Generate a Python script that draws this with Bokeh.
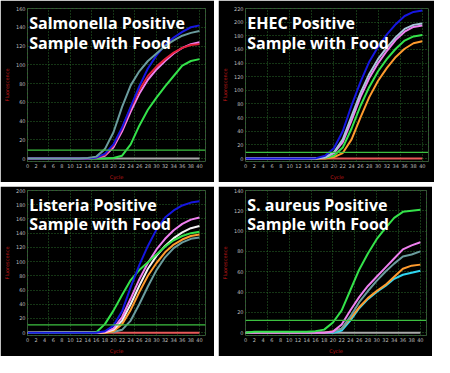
from bokeh.plotting import figure
from bokeh.models import Label, FixedTicker, Span
from bokeh.layouts import row, column
from bokeh.embed import file_html
from bokeh.resources import INLINE

# ---------------- data ----------------
cycles = [0, 2, 4, 6, 8, 10, 12, 14, 16, 18, 20, 22, 24, 26, 28, 30, 32, 34, 36, 38, 40]
x_tick_labels = [0, 2, 4, 6, 8, 10, 12, 14, 16, 18, 20, 22, 24, 26, 28, 30, 32, 34, 36, 38, 40]
x_grid_lines = [5, 10, 15, 20, 25, 30, 35, 40]

# Salmonella
salm_base  = [0, 0, 0, 0, 0, 0, 0, 0, 0, 0, 0, 0, 0, 0, 0, 0, 0, 0, 0, 0, 0]
salm_green = [0, 0, 0, 0, 0, 0, 0, 0, 0, 0, 0.5, 3, 15, 35, 52, 65, 77, 88, 99, 104, 106]
salm_pink  = [0, 0, 0, 0, 0, 0, 0, 0, 1, 3, 12, 29, 50, 69, 84, 95, 104, 112, 118, 122, 124]
salm_red   = [0, 0, 0, 0, 0, 0, 0, 0, 1, 4, 14, 32, 54, 73, 88, 98, 106, 113, 118, 121, 122]
salm_blue  = [0, 0, 0, 0, 0, 0, 0, 0, 1, 5, 15, 33, 55, 77, 96, 110, 121, 129, 135, 140, 142]
salm_teal  = [0, 0, 0, 0, 0, 0, 0, 0.5, 2, 10, 28, 55, 78, 93, 104, 112, 120, 126, 131, 134, 136]
salm_threshold = 9
salm_y_ticks = [0, 20, 40, 60, 80, 100, 120, 140, 160]

# EHEC
ehec_base   = [0, 0, 0, 0, 0, 0, 0, 0, 0, 0, 0, 0, 0, 0, 0, 0, 0, 0, 0, 0, 0]
ehec_orange = [0, 0, 0, 0, 0, 0, 0, 0, 0, 0, 2, 8, 28, 60, 90, 114, 133, 149, 161, 169, 172]
ehec_green  = [0, 0, 0, 0, 0, 0, 0, 0, 0, 1, 4, 16, 44, 77, 105, 128, 146, 161, 173, 179, 181]
ehec_pink   = [0, 0, 0, 0, 0, 0, 0, 0, 0, 1.5, 8, 24, 56, 90, 118, 140, 158, 174, 186, 193, 195]
ehec_steel  = [0, 0, 0, 0, 0, 0, 0, 0, 0, 2, 9, 28, 62, 96, 124, 146, 163, 178, 190, 196, 198]
ehec_blue   = [0, 0, 0, 0, 0, 0, 0, 0, 0.5, 4, 15, 40, 78, 112, 142, 164, 182, 197, 209, 215, 217]
ehec_threshold = 9
ehec_y_ticks = [0, 20, 40, 60, 80, 100, 120, 140, 160, 180, 200, 220]

# Listeria
list_base   = [0, 0, 0, 0, 0, 0, 0, 0, 0, 0, 0, 0, 0, 0, 0, 0, 0, 0, 0, 0, 0]
list_teal   = [0, 0, 1, 1, 1, 1, 1, 1, 1, 1, 1, 4, 17, 40, 65, 88, 106, 119, 127, 132, 134]
list_orange = [0, 0, 0, 0, 0, 0, 0, 0, 0, 0, 2, 12, 32, 57, 80, 98, 113, 124, 131, 136, 138]
list_white  = [0, 0, 0, 0, 0, 0, 0, 0, 0, 0.5, 4, 17, 40, 66, 90, 108, 122, 133, 141, 147, 150]
list_pink   = [0, 0, 0, 0, 0, 0, 0, 0, 0, 1, 6, 22, 48, 75, 98, 117, 132, 144, 153, 159, 162]
list_green  = [0, 0, 0, 0, 0, 0, 0, 0, 0.5, 12, 31, 53, 74, 88, 99, 110, 121, 130, 136, 140, 142]
list_blue   = [0, 0, 0, 0, 0, 0, 0, 0, 0, 2, 10, 30, 64, 95, 122, 145, 162, 172, 179, 183, 185]
list_threshold = 11
list_y_ticks = [0, 20, 40, 60, 80, 100, 120, 140, 160, 180, 200]

# S. aureus
saur_base   = [0, 0, 0, 0, 0, 0, 0, 0, 0, 0, 0, 0, 0, 0, 0, 0, 0, 0, 0, 0, 0]
saur_cyan   = [0, 0, 0, 0, 0, 0, 0, 0, 0, 0, 0, 2, 12, 24, 33, 40, 46, 53, 57, 59, 61]
saur_orange = [0, 0, 0, 0, 0, 0, 0, 0, 0, 0, 1.5, 4, 14, 25, 34, 41, 47, 55, 63, 66, 67]
saur_teal   = [0, 0, 0, 0, 0, 0, 0, 0, 0, 0, 0.5, 4, 16, 30, 41, 51, 60, 68, 75, 77, 80]
saur_pink   = [0, 0, 0, 0, 0, 0, 0, 0, 0, 0, 1, 8, 22, 35, 46, 55, 64, 73, 82, 86, 89]
saur_green  = [0, 1, 1, 1, 1, 1, 1, 1, 1.5, 3, 10, 22, 42, 62, 78, 92, 103, 113, 119, 120, 121]
saur_threshold = 12
saur_y_ticks = [0, 20, 40, 60, 80, 100, 120, 140]

# colours
C_BLUE = "#1616e0"
C_TEAL = "#6a9c9e"
C_RED = "#e3203c"
C_PINK = "#f080f0"
C_GREEN = "#34e24a"
C_ORANGE = "#ff9b2e"
C_WHITE = "#f4f4f4"
C_CYAN = "#2fd6f2"
C_STEEL = "#a9c4dc"
C_GRAYBASE = "#a8a8a8"
C_REDBASE = "#e85858"
C_THRESH = "#3cc040"
C_GRID = "#2b6a2b"


def make_panel(w, h, borders, y_end, y_ticks, threshold, series, title1, title2):
    left, right, top, bottom = borders
    y_start = -0.02 * y_end
    p = figure(width=w, height=h, output_backend="svg", toolbar_location=None,
               x_range=(0, 41.4), y_range=(y_start, y_end),
               background_fill_color="black", border_fill_color="black",
               min_border_left=left, min_border_right=right,
               min_border_top=top, min_border_bottom=bottom)
    p.outline_line_color = C_GRID
    p.outline_line_dash = "2 2"
    p.outline_line_width = 1

    p.xaxis.ticker = FixedTicker(ticks=x_tick_labels)
    p.yaxis.ticker = FixedTicker(ticks=y_ticks)
    p.xgrid.ticker = FixedTicker(ticks=x_grid_lines)
    for g in (p.xgrid, p.ygrid):
        g.grid_line_color = C_GRID
        g.grid_line_dash = "1 2"
        g.grid_line_width = 1
    for ax in (p.xaxis, p.yaxis):
        ax.axis_line_color = None
        ax.major_tick_line_color = None
        ax.minor_tick_line_color = None
        ax.major_tick_in = 0
        ax.major_tick_out = 0
        ax.minor_tick_in = 0
        ax.minor_tick_out = 0
        ax.major_label_text_color = "#bdbdbd"
        ax.major_label_text_font = "DejaVu Sans"
        ax.major_label_text_font_size = "5px"
        ax.axis_label_text_color = "#c01818"
        ax.axis_label_text_font = "DejaVu Sans"
        ax.axis_label_text_font_size = "5px"
        ax.axis_label_text_font_style = "normal"
        ax.major_label_standoff = 2
    p.xaxis.axis_label = "Cycle"
    p.xaxis.axis_label_standoff = 3
    p.yaxis.axis_label = "Fluorescence"
    p.yaxis.axis_label_standoff = 3

    p.add_layout(Span(location=threshold, dimension="width", line_color=C_THRESH, line_width=1.3))
    for vals, col in series:
        p.line(cycles, vals, line_color=col, line_width=2)

    frame_h = h - top - bottom
    ppu = frame_h / (y_end - y_start)
    for i, t in enumerate((title1, title2)):
        lab = Label(x=0.4, y=y_end - (15 + 20 * i) / ppu, text=t,
                    text_color="white", text_font="Open Sans", text_font_style="bold",
                    text_font_size="16px", text_baseline="alphabetic")
        p.add_layout(lab)
    return p


p1 = make_panel(214, 182, (22, 9, 6, 19), 160, salm_y_ticks, salm_threshold,
                [(salm_base, C_GRAYBASE), (salm_green, C_GREEN), (salm_pink, C_PINK),
                 (salm_red, C_RED), (salm_blue, C_BLUE), (salm_teal, C_TEAL)],
                "Salmonella Positive", "Sample with Food")
p2 = make_panel(216, 182, (25, 6, 8, 19), 220, ehec_y_ticks, ehec_threshold,
                [(ehec_base, C_REDBASE), (ehec_orange, C_ORANGE), (ehec_green, C_GREEN),
                 (ehec_pink, C_PINK), (ehec_steel, C_STEEL), (ehec_blue, C_BLUE)],
                "EHEC Positive", "Sample with Food")
p3 = make_panel(214, 170, (22, 9, 4, 15), 200, list_y_ticks, list_threshold,
                [(list_base, C_REDBASE), (list_teal, C_TEAL), (list_orange, C_ORANGE),
                 (list_white, C_WHITE), (list_pink, C_PINK), (list_green, C_GREEN),
                 (list_blue, C_BLUE)],
                "Listeria Positive", "Sample with Food")
p4 = make_panel(214, 170, (23, 6, 4, 15), 140, saur_y_ticks, saur_threshold,
                [(saur_base, C_GRAYBASE), (saur_cyan, C_CYAN), (saur_orange, C_ORANGE),
                 (saur_teal, C_TEAL), (saur_pink, C_PINK), (saur_green, C_GREEN)],
                "S. aureus Positive", "Sample with Food")

layout = column(row(p1, p2, spacing=4), row(p3, p4, spacing=4), spacing=4)

open("out.html", "w").write(file_html(layout, INLINE))
